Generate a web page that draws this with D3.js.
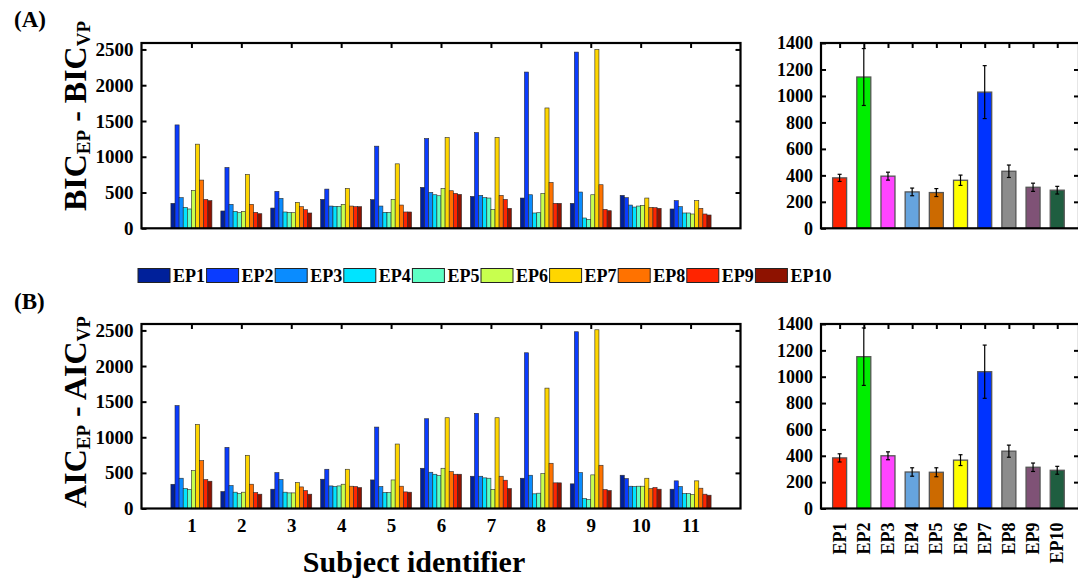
<!DOCTYPE html>
<html><head><meta charset="utf-8">
<script src="https://cdn.jsdelivr.net/npm/d3@7/dist/d3.min.js"></script>
<style>
html,body{margin:0;padding:0;background:#fff;}
svg{display:block;}
svg text{font-family:"Liberation Serif","Times New Roman",Times,serif !important;font-weight:bold;fill:#000;}
</style></head>
<body><svg id="chart" width="1078" height="579" font-family="Liberation Serif"></svg>
<script>
// ---------- data ----------
const subjects = ["1","2","3","4","5","6","7","8","9","10","11"];
const models = ["EP1","EP2","EP3","EP4","EP5","EP6","EP7","EP8","EP9","EP10"];
const jetColors = ["#00209a","#0a3cff","#0a8cff","#00e4ff","#5effc4","#c8ff4e","#ffd600","#ff7200","#ff2400","#8e1200"];
const meanColors = ["#ff2200","#00ee00","#ff44ff","#66a4de","#cc6a00","#ffff00","#0033ff","#8c8c8c","#7f5276","#1f5e40"];
// BIC_EP - BIC_VP per subject (rows) and model (cols)
const bicData = [
  [349,1445,428,293,270,530,1176,674,404,386],
  [242,850,335,237,218,237,753,335,223,204],
  [283,516,418,228,223,218,362,302,260,214],
  [404,548,311,307,307,335,558,311,302,302],
  [400,1148,311,223,223,404,901,325,228,228],
  [572,1255,502,469,455,558,1269,525,488,474],
  [446,1338,460,428,423,260,1269,460,404,279],
  [423,2184,469,214,218,488,1682,641,349,349],
  [349,2463,507,144,125,469,2500,609,265,246],
  [460,428,325,297,311,321,423,293,288,279],
  [270,386,302,214,214,200,386,279,200,186]
];
// AIC_EP - AIC_VP
const aicData = [
  [340,1445,425,280,266,532,1180,672,406,383],
  [238,858,322,229,210,229,747,341,224,201],
  [271,504,406,229,219,219,364,303,252,201],
  [411,551,317,308,317,341,551,313,308,294],
  [401,1143,308,224,224,401,905,313,233,229],
  [565,1260,509,481,462,565,1274,518,481,481],
  [453,1336,453,430,425,266,1274,453,397,280],
  [425,2186,467,206,215,490,1690,635,360,360],
  [346,2481,504,140,126,472,2509,607,266,252],
  [467,420,313,308,313,313,425,280,294,271],
  [271,388,308,210,210,196,388,285,201,187]
];
const bicMean = [381,1143,394,275,270,363,1029,431,310,288];
const bicErr  = [27,215,30,29,30,39,200,47,31,29];
const aicMean = [384,1152,400,277,275,367,1038,435,313,290];
const aicErr  = [31,218,30,32,34,41,202,46,32,30];
const leftTicks = [0,500,1000,1500,2000,2500];
const rightTicks = [0,200,400,600,800,1000,1200,1400];

// ---------- drawing ----------
const FONT = '"Liberation Serif","Times New Roman",Times,serif';
const svg = d3.select("#chart");
svg.append("rect").attr("width",1078).attr("height",579).attr("fill","#fff");

function styleAxis(a, size) {
  a.attr("font-family", FONT).attr("font-size", size);
  a.select(".domain").remove();
  a.selectAll("text").style("font-size", size+"px").style("font-family", FONT).style("font-weight","bold").attr("fill","#000");
  a.selectAll("line").attr("stroke-width",2).attr("stroke","#000");
}

function groupPanel(data, top, bottom, showX) {
  const g = svg.append("g");
  const x = d3.scaleLinear().domain([0,12]).range([141.5,740.5]);
  const y = d3.scaleLinear().domain([0,2590]).range([bottom, top]);
  const inner = d3.scaleBand().domain(models).range([-20.5,20.5]);
  const gx = d => x(subjects.indexOf(d)+1);

  g.append("g").attr("transform",`translate(${x(0)},0)`)
    .call(d3.axisLeft(y).tickValues(leftTicks).tickFormat(d3.format("d")).tickSizeInner(-5).tickSizeOuter(0).tickPadding(8))
    .call(a=>styleAxis(a,19));
  g.append("g").attr("transform",`translate(${x(12)},0)`)
    .call(d3.axisRight(y).tickValues(leftTicks.slice(1)).tickSizeInner(-5).tickSizeOuter(0).tickFormat(""))
    .call(a=>styleAxis(a,19));
  g.append("g").attr("transform",`translate(0,${top})`)
    .call(d3.axisTop(x).tickValues(d3.range(1,12)).tickSizeInner(-5).tickSizeOuter(0).tickFormat(""))
    .call(a=>styleAxis(a,19));
  if (showX) {
    g.append("g").attr("transform",`translate(0,${bottom})`)
      .call(d3.axisBottom(x).tickValues(d3.range(1,12)).tickSize(0).tickPadding(10).tickFormat(d=>subjects[d-1]))
      .call(a=>styleAxis(a,19));
  }

  subjects.forEach((s,si)=>{
    g.append("g").selectAll("rect").data(models).join("rect")
      .attr("x", m => gx(s)+inner(m))
      .attr("width", inner.bandwidth())
      .attr("y", (m,mi) => y(data[si][mi]))
      .attr("height", (m,mi) => y(0)-y(data[si][mi]))
      .attr("fill", (m,mi) => jetColors[mi])
      .attr("stroke","#2a2a2a").attr("stroke-width",0.6);
  });

  g.append("rect").attr("x",x(0)).attr("y",top).attr("width",x(12)-x(0)).attr("height",bottom-top)
    .attr("fill","none").attr("stroke","#000").attr("stroke-width",2.2);
}

function meanPanel(mean, err, top, bottom, showX) {
  const g = svg.append("g");
  const x = d3.scaleLinear().domain([-0.77,9.9]).range([821,1079]);
  const y = d3.scaleLinear().domain([0,1400]).range([bottom, top]);
  const xi = m => x(models.indexOf(m));

  g.append("g").attr("transform",`translate(${x(-0.77)},0)`)
    .call(d3.axisLeft(y).tickValues(rightTicks).tickFormat(d3.format("d")).tickSizeInner(-5).tickSizeOuter(0).tickPadding(8))
    .call(a=>styleAxis(a,18));
  g.append("g").attr("transform",`translate(${x(9.9)},0)`)
    .call(d3.axisRight(y).tickValues(rightTicks.slice(1,-1)).tickSizeInner(-5).tickSizeOuter(0).tickFormat(""))
    .call(a=>styleAxis(a,18));
  g.append("g").attr("transform",`translate(0,${top})`)
    .call(d3.axisTop(x).tickValues(d3.range(0,10)).tickSizeInner(-5).tickSizeOuter(0).tickFormat(""))
    .call(a=>styleAxis(a,18));

  const bw = 14;
  g.selectAll("rect.bar").data(models).join("rect").attr("class","bar")
    .attr("x", m => xi(m)-bw/2).attr("width", bw)
    .attr("y", (m,i) => y(mean[i])).attr("height",(m,i)=>y(0)-y(mean[i]))
    .attr("fill",(m,i)=>meanColors[i])
    .attr("stroke","#555").attr("stroke-width",1.3);
  const eb = g.selectAll("g.err").data(models).join("g").attr("class","err");
  eb.append("line").attr("x1",m=>xi(m)).attr("x2",m=>xi(m))
    .attr("y1",(m,i)=>y(mean[i]+err[i])).attr("y2",(m,i)=>y(mean[i]-err[i]))
    .attr("stroke","#000").attr("stroke-width",1.2);
  eb.append("line").attr("x1",m=>xi(m)-2).attr("x2",m=>xi(m)+2)
    .attr("y1",(m,i)=>y(mean[i]+err[i])).attr("y2",(m,i)=>y(mean[i]+err[i]))
    .attr("stroke","#000").attr("stroke-width",1.2);
  eb.append("line").attr("x1",m=>xi(m)-2).attr("x2",m=>xi(m)+2)
    .attr("y1",(m,i)=>y(mean[i]-err[i])).attr("y2",(m,i)=>y(mean[i]-err[i]))
    .attr("stroke","#000").attr("stroke-width",1.2);

  if (showX) {
    g.selectAll("text.xl").data(models).join("text").attr("class","xl")
      .attr("transform", m => `translate(${xi(m)+6},${bottom+14}) rotate(-90)`)
      .attr("text-anchor","end").style("font-size","18px").text(m=>m);
  }

  g.append("rect").attr("x",x(-0.77)).attr("y",top).attr("width",x(9.9)-x(-0.77)).attr("height",bottom-top)
    .attr("fill","none").attr("stroke","#000").attr("stroke-width",2.2);
}

groupPanel(bicData, 43, 228.3, false);
groupPanel(aicData, 324, 508.5, true);
meanPanel(bicMean, bicErr, 43, 228.3, false);
meanPanel(aicMean, aicErr, 324, 508.5, true);

function yLabel(cx, cy, base) {
  const t = svg.append("text").attr("transform",`translate(${cx},${cy}) rotate(-90)`)
    .attr("text-anchor","middle").style("font-size","32px");
  t.append("tspan").text(base);
  t.append("tspan").text("EP").style("font-size","19px").attr("dy",4);
  t.append("tspan").text(" - ").attr("dy",-4);
  t.append("tspan").text(base);
  t.append("tspan").text("VP").style("font-size","19px").attr("dy",4);
}
yLabel(86, 116, "BIC");
yLabel(86, 412, "AIC");

svg.append("text").attr("x",14).attr("y",27).style("font-size","23px").text("(A)");
svg.append("text").attr("x",14).attr("y",309).style("font-size","23px").text("(B)");

const leg = svg.append("g");
models.forEach((m,i)=>{
  const lx = 138 + i*68.6;
  leg.append("rect").attr("x",lx).attr("y",268.5).attr("width",32).attr("height",14)
    .attr("fill",jetColors[i]).attr("stroke","#222").attr("stroke-width",1);
  leg.append("text").attr("x",lx+35).attr("y",282).style("font-size","18px").text(m);
});

svg.append("text").attr("x",414).attr("y",572).attr("text-anchor","middle").style("font-size","30px").text("Subject identifier");
</script></body></html>
